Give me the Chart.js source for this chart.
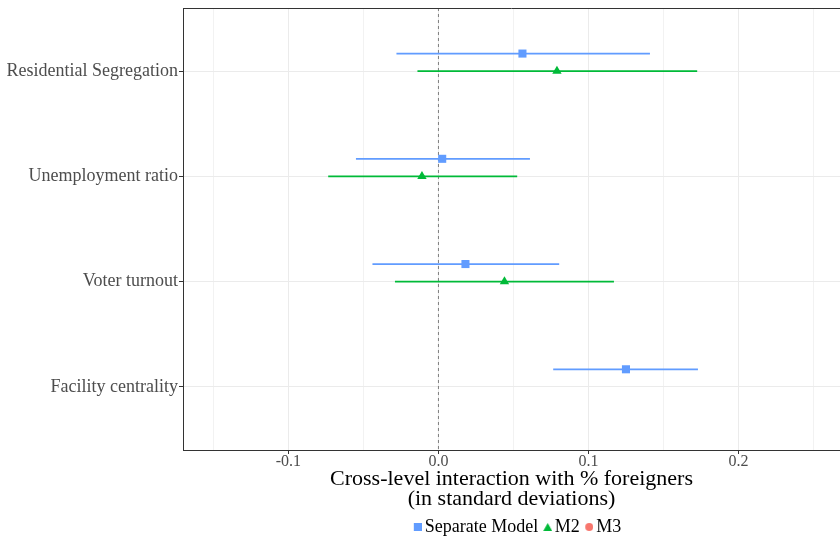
<!DOCTYPE html>
<html>
<head>
<meta charset="utf-8">
<script src="https://cdn.jsdelivr.net/npm/chart.js@4/dist/chart.umd.min.js"></script>
<style>
  html, body { margin: 0; padding: 0; background: #fff; overflow: hidden; }
  #wrap { width: 840px; height: 536px; position: relative; }
</style>
</head>
<body>
<div id="wrap"><canvas id="c" width="840" height="536"></canvas></div>
<script>
// ---- data ----
const categories = ['Residential Segregation', 'Unemployment ratio', 'Voter turnout', 'Facility centrality'];
const seriesNames = ['Separate Model', 'M2', 'M3'];
const sepEst = [0.056, 0.0025, 0.018, 0.125];
const sepLo  = [-0.028, -0.055, -0.044, 0.0765];
const sepHi  = [0.141, 0.061, 0.0805, 0.173];
const m2Est  = [0.079, -0.011, 0.044, null];
const m2Lo   = [-0.014, -0.0735, -0.029, null];
const m2Hi   = [0.1725, 0.0525, 0.117, null];
const m3Est  = [null, null, null, null];
const m3Lo   = [null, null, null, null];
const m3Hi   = [null, null, null, null];
const xTickLabels = {'-0.1': '-0.1', '0': '0.0', '0.1': '0.1', '0.2': '0.2'};

// ---- styling ----
const colors = ['#619CFF', '#00BA38', '#F8766D'];
const styles = ['rect', 'triangle', 'circle'];
const dodge = [-0.167, 0, 0.167];
const serif = "'Liberation Serif', 'DejaVu Serif', serif";

function pts(est, off) {
  const out = [];
  est.forEach((v, i) => { if (v !== null) out.push({x: v, y: i + 1 + off}); });
  return out;
}
function segs(lo, hi, off) {
  const out = [];
  lo.forEach((v, i) => {
    if (v === null) return;
    out.push({x: v, y: i + 1 + off});
    out.push({x: hi[i], y: i + 1 + off});
    out.push({x: hi[i], y: null});
  });
  return out;
}

// small legend marker images (marker sits at the right of the image)
function marker(kind, color) {
  const c = document.createElement('canvas');
  const W = kind === 'triangle' ? 13 : 12;
  c.width = W; c.height = 8;
  const g = c.getContext('2d');
  g.fillStyle = color;
  if (kind === 'rect') g.fillRect(W - 8, 0, 8, 8);
  else if (kind === 'triangle') { g.beginPath(); g.moveTo(W - 4.5, 0); g.lineTo(W, 8); g.lineTo(W - 9, 8); g.closePath(); g.fill(); }
  else { g.beginPath(); g.arc(W - 4, 4, 4, 0, Math.PI * 2); g.fill(); }
  return c;
}
const legendMarkers = styles.map((s, i) => marker(s, colors[i]));

const est = [sepEst, m2Est, m3Est], los = [sepLo, m2Lo, m3Lo], his = [sepHi, m2Hi, m3Hi];
const datasets = [];
datasets.push({
  label: '_zero', data: [{x: 0, y: 0.4}, {x: 0, y: 4.6}],
  borderColor: '#7f7f7f', borderWidth: 1, borderDash: [3, 3], pointRadius: 0, order: 10
});
for (let s = 0; s < 3; s++) {
  datasets.push({
    label: '_seg' + s, data: segs(los[s], his[s], dodge[s]),
    borderColor: colors[s], borderWidth: 1.7, pointRadius: 0, spanGaps: false, order: 5 - s
  });
  datasets.push({
    label: seriesNames[s], data: pts(est[s], dodge[s]), showLine: false,
    pointStyle: styles[s], pointRadius: s === 1 ? 5.4 : 5.7,
    backgroundColor: colors[s], borderColor: colors[s], borderWidth: 0, order: 1,
    legendIndex: s
  });
}

const topBorder = {
  id: 'topBorder',
  afterLayout(chart) {
    // nudge legend to sit where the reference places it
    if (chart.legend) { chart.legend.left += 7; chart.legend.right += 7; }
  },
  afterDraw(chart) {
    const {ctx, chartArea} = chart;
    ctx.save();
    ctx.strokeStyle = '#333333';
    ctx.lineWidth = 1;
    ctx.beginPath();
    ctx.moveTo(chartArea.left, chartArea.top + 0.5);
    ctx.lineTo(chartArea.right, chartArea.top + 0.5);
    ctx.stroke();
    ctx.restore();
  }
};

new Chart(document.getElementById('c'), {
  type: 'line',
  data: { datasets },
  plugins: [topBorder],
  options: {
    responsive: false, animation: false,
    layout: { autoPadding: false, padding: { top: 8, right: 0, left: 0, bottom: -10 } },
    plugins: {
      tooltip: { enabled: false },
      legend: {
        position: 'bottom', fullSize: false,
        labels: {
          usePointStyle: true, boxHeight: 8, pointStyleWidth: 0.01, padding: 3,
          font: { family: serif, size: 18 }, color: '#000',
          generateLabels: (chart) => chart.data.datasets
            .map((d, i) => ({d, i}))
            .filter(o => !o.d.label.startsWith('_'))
            .map(o => ({
              text: o.d.legendIndex < 2 ? o.d.label + ' ' : o.d.label, datasetIndex: o.i, hidden: false,
              pointStyle: legendMarkers[o.d.legendIndex], fillStyle: colors[o.d.legendIndex],
              strokeStyle: colors[o.d.legendIndex], lineWidth: 0, fontColor: '#000'
            }))
        }
      }
    },
    scales: {
      x: {
        type: 'linear', min: -0.1703, max: 0.2677,
        afterBuildTicks: (sc) => { sc.ticks = [-0.15, -0.1, -0.05, 0, 0.05, 0.1, 0.15, 0.2, 0.25].map(v => ({value: v})); },
        afterFit: (sc) => { sc.height = 65; sc.paddingLeft = 0; sc.paddingRight = 0; },
        ticks: {
          callback: (v) => { const k = String(Math.round(v * 100) / 100); return xTickLabels[k] !== undefined ? xTickLabels[k] : ''; },
          font: { family: serif, size: 16 }, color: '#4D4D4D', padding: -2, maxRotation: 0, autoSkip: false
        },
        grid: {
          color: (c) => (c.tick && Math.abs(Math.round(c.tick.value * 100)) % 10 === 0) ? '#EBEBEB' : '#F2F2F2',
          tickColor: (c) => (c.tick && Math.abs(Math.round(c.tick.value * 100)) % 10 === 0) ? '#333333' : 'rgba(0,0,0,0)',
          tickLength: 4, lineWidth: 1
        },
        border: { color: '#333333', width: 1 },
        title: {
          display: true, text: ['Cross-level interaction with % foreigners', '(in standard deviations)'],
          font: { family: serif, size: 22, lineHeight: 0.91 }, color: '#000', padding: { top: 0, bottom: 6 }
        }
      },
      y: {
        type: 'linear', min: 0.4, max: 4.6, reverse: true,
        afterBuildTicks: (sc) => { sc.ticks = [1, 2, 3, 4].map(v => ({value: v})); },
        afterFit: (sc) => { sc.width = 183; sc.paddingTop = 0; sc.paddingBottom = 0; },
        ticks: {
          callback: (v) => categories[v - 1] || '',
          font: { family: serif, size: 18 }, color: '#4D4D4D', padding: 1, autoSkip: false
        },
        grid: { color: '#EBEBEB', tickColor: '#333333', tickLength: 4, lineWidth: 1 },
        border: { color: '#333333', width: 1 }
      }
    }
  }
});
</script>
</body>
</html>
